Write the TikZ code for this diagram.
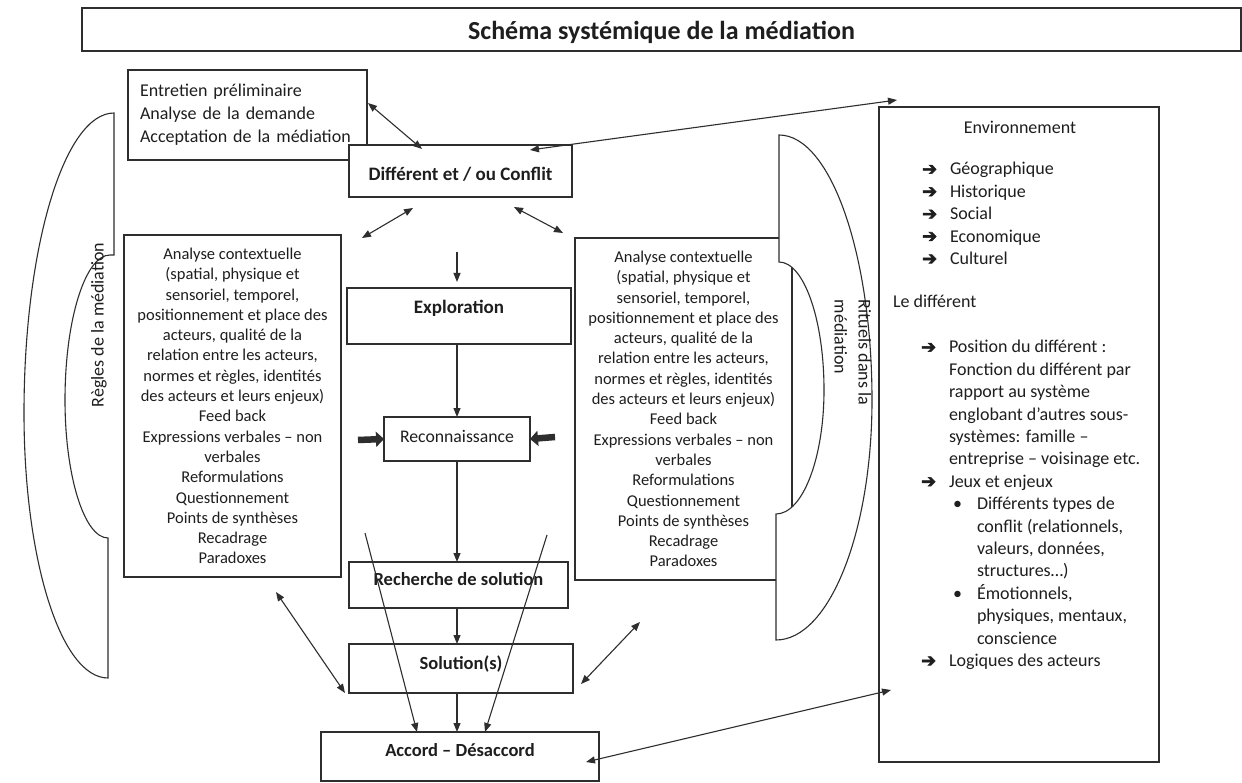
\documentclass[tikz,border=0pt]{standalone}
\usepackage{fontspec}
\setmainfont{Carlito}
\newfontfamily\dvfont[FakeBold=3]{DejaVu Sans}
\usetikzlibrary{arrows.meta,calc}
\definecolor{ln}{HTML}{2E2E2E}
\definecolor{tx}{HTML}{1E1E1E}
\newcommand{\myarrow}{{\dvfont\fontsize{18}{18}\selectfont ➔}}
\newcommand{\arritem}[1]{\makebox[28pt][l]{\myarrow}#1}
\newcommand{\indentitem}[1]{\hspace{28pt}#1}
\newcommand{\bulitem}[1]{\hspace{32pt}\makebox[24pt][l]{•}#1}
\newcommand{\bulcont}[1]{\hspace{56pt}#1}
\begin{document}
\begin{tikzpicture}[x=1pt,y=-1pt,
  every node/.style={inner sep=0pt, outer sep=0pt, text=tx},
  bx/.style={draw=ln, line width=1.1pt, fill=white, anchor=north west},
  bxb/.style={bx, font=\bfseries\fontsize{18.5}{22}\selectfont},
  tb/.style 2 args={text height=#1pt, text depth=#2pt},
  con/.style={draw=ln, line width=1.1pt},
  one/.style={con, -{Triangle[length=9pt,width=7pt]}},
  two/.style={con, {Triangle[length=9pt,width=7pt]}-{Triangle[length=9pt,width=7pt]}},
  fat/.style={draw=ln, line width=6.5pt, -{Triangle[length=8pt,width=15pt]}},
  shp/.style={draw=ln, line width=1.1pt, fill=white},
  body/.style={font=\fontsize{16.5}{20.3}\selectfont, align=center},
  envf/.style={font=\fontsize{18}{22.4}\selectfont, anchor=base west}
]
\useasboundingbox (0,0) rectangle (1242,783);
\fill[white] (0,0) rectangle (1242,783);

% title
\node[bx, minimum width=1159pt, minimum height=43pt, font=\bfseries\fontsize{26}{30}\selectfont, tb={21}{0}] (title) at (82,8) {Schéma systémique de la médiation};

% top-left box
\node[bx, minimum width=239pt, minimum height=90pt, align=left, text width=215pt, inner xsep=12pt, font=\fontsize{18}{23}\selectfont] (ent) at (128,70) {Entretien préliminaire\\Analyse de la demande\\Acceptation de la médiation};

% conflict box
\node[bxb, minimum width=223pt, minimum height=52pt, tb={19}{0}, font=\bfseries\fontsize{19}{22}\selectfont] (dif) at (349,145) {Différent et / ou Conflit};

% left analysis box
\node[bx, body, minimum width=217pt, minimum height=342pt] (anl) at (124,235) {Analyse contextuelle\\(spatial, physique et\\sensoriel, temporel,\\positionnement et place des\\acteurs, qualité de la\\relation entre les acteurs,\\normes et règles, identités\\des acteurs et leurs enjeux)\\Feed back\\Expressions verbales – non\\verbales\\Reformulations\\Questionnement\\Points de synthèses\\Recadrage\\Paradoxes};

% right analysis box
\node[bx, body, minimum width=217pt, minimum height=342pt] (anr) at (575,238) {Analyse contextuelle\\(spatial, physique et\\sensoriel, temporel,\\positionnement et place des\\acteurs, qualité de la\\relation entre les acteurs,\\normes et règles, identités\\des acteurs et leurs enjeux)\\Feed back\\Expressions verbales – non\\verbales\\Reformulations\\Questionnement\\Points de synthèses\\Recadrage\\Paradoxes};

% left bracket shape (Règles)
\draw[shp] (114,113) -- (114,255) -- (110,255)
  .. controls (85.2,255) and (65,320) .. (65,400)
  .. controls (65,476) and (84.3,538) .. (108,538) -- (108,678)
  .. controls (60.7,678) and (24,559.3) .. (24,413)
  .. controls (24,247.4) and (64.3,113) .. cycle;
\node[rotate=90, font=\fontsize{18}{22}\selectfont] (regt) at (99,325) {Règles de la médiation};

% right bracket shape (Rituels)
\draw[shp] (779,135) -- (779,262)
  .. controls (803.8,262) and (824,319.3) .. (824,390)
  .. controls (824,458.5) and (802.5,514) .. (776,514) -- (776,640)
  .. controls (829,640) and (872,532.5) .. (872,400)
  .. controls (872,253.7) and (830.3,135) .. cycle;
\node[rotate=-90, anchor=north west, align=left, font=\fontsize{18}{24}\selectfont] (ritt) at (871,300) {Rituels dans la\\médiation};

% environment box
\node[bx, minimum width=280pt, minimum height=655pt] (env) at (879,107) {};
\node[font=\fontsize{18}{22}\selectfont] (envt) at (1020,127) {Environnement};
\node[envf] (envA) at (922,175) {\begin{tabular}[t]{@{}l@{}}\arritem{Géographique}\\\arritem{Historique}\\\arritem{Social}\\\arritem{Economique}\\\arritem{Culturel}\end{tabular}};
\node[envf] (ledif) at (893,308) {Le différent};
\node[envf] (envB) at (921,353) {\begin{tabular}[t]{@{}l@{}}\arritem{Position du différent :}\\\indentitem{Fonction du différent par}\\\indentitem{rapport au système}\\\indentitem{englobant d’autres sous-}\\\indentitem{systèmes: famille –}\\\indentitem{entreprise – voisinage etc.}\\\arritem{Jeux et enjeux}\\\bulitem{Différents types de}\\\bulcont{conflit (relationnels,}\\\bulcont{valeurs, données,}\\\bulcont{structures…)}\\\bulitem{Émotionnels,}\\\bulcont{physiques, mentaux,}\\\bulcont{conscience}\\\arritem{Logiques des acteurs}\end{tabular}};

% central column
\node[bxb, minimum width=224pt, minimum height=56pt, tb={0}{5}, font=\bfseries\fontsize{19}{22}\selectfont] (expl) at (347,288) {Exploration};
\node[bx, minimum width=146pt, minimum height=44pt, tb={6}{0}, font=\fontsize{17.7}{21}\selectfont] (rec) at (384,417) {Reconnaissance};
\node[bxb, minimum width=219pt, minimum height=46pt, tb={1}{0}] (rech) at (349,562) {Recherche de solution};
\node[bxb, minimum width=224pt, minimum height=49pt, tb={2}{0}] (sol) at (349,644) {Solution(s)};
\node[bxb, minimum width=278pt, minimum height=49pt, tb={0}{0}] (acc) at (321,732) {Accord – Désaccord};

\coordinate (colx) at (457,0);

% vertical flow
\draw[one] ($(expl.north -| colx)+(0,-36)$) -- ($(expl.north -| colx)+(0,-6)$);
\draw[one] (expl.south -| colx) -- (rec.north -| colx);
\draw[one] (rec.south -| colx) -- (rech.north -| colx);
\draw[one] (rech.south -| colx) -- (sol.north -| colx);
\draw[one] (sol.south -| colx) -- (acc.north -| colx);

% crossing lines
\draw[one] ($(anl.south east)+(24,-44)$) -- ($(acc.north west)+(96,0)$);
\draw[one] ($(anr.south west)+(-28,-45)$) -- ($(acc.north west)+(164,0)$);

% double arrows
\draw[two] ($(ent.north east)+(1,33)$) -- ($(dif.north west)+(73,4)$);
\draw[two] ($(dif.north west)+(181,5)$) -- ($(env.north west)+(18,-7)$);
\draw[two] ($(dif.south west)+(64,11)$) -- ($(anl.north east)+(21,3)$);
\draw[two] ($(dif.south west)+(165,10)$) -- ($(anr.north west)+(-12,-5)$);
\draw[two] ($(anl.south east)+(-65,15)$) -- ($(sol.south west)+(-4,0)$);
\draw[two] ($(anr.south west)+(65,42)$) -- ($(sol.south east)+(8,-9)$);
\draw[two] ($(acc.north east)+(-13,30)$) -- ($(env.south west)+(12,-72)$);

% thick arrows
\draw[fat] ($(rec.west)+(-26,1)$) -- (rec.west);
\draw[fat] ($(rec.east)+(25,-2)$) -- (rec.east);
\end{tikzpicture}
\end{document}
